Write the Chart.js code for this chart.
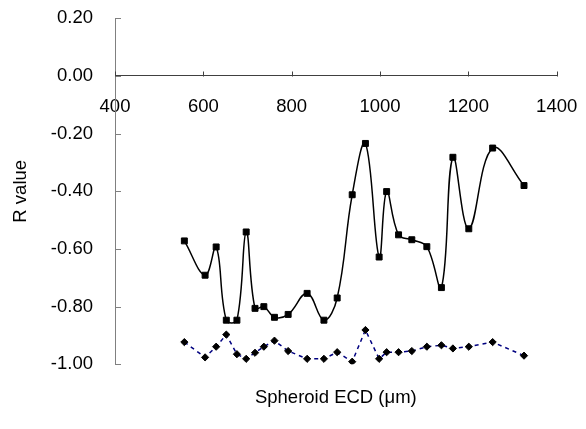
<!DOCTYPE html>
<html>
<head>
<meta charset="utf-8">
<script src="https://cdn.jsdelivr.net/npm/chart.js@4/dist/chart.umd.min.js"></script>
<style>
  html, body { margin: 0; padding: 0; background: #ffffff; }
  #wrap { width: 586px; height: 429px; position: relative; }
</style>
</head>
<body>
<div id="wrap"><canvas id="c" width="586" height="429"></canvas></div>
<script>
// Spheroid ECD (µm) for each measured point
const ecd = [557, 604, 629, 652, 676, 697, 717, 737, 761, 792, 835, 873, 903, 937, 967, 998, 1015, 1042, 1072, 1106, 1139, 1165, 1201, 1255, 1326];
// Series with square markers (solid smoothed line)
const rSquares = [-0.572, -0.691, -0.593, -0.847, -0.847, -0.541, -0.806, -0.800, -0.837, -0.827, -0.754, -0.847, -0.770, -0.412, -0.234, -0.628, -0.401, -0.551, -0.568, -0.592, -0.734, -0.282, -0.530, -0.250, -0.380];
// Series with diamond markers (dotted navy line)
const rDiamonds = [-0.923, -0.976, -0.939, -0.897, -0.965, -0.981, -0.960, -0.939, -0.918, -0.954, -0.981, -0.981, -0.958, -0.991, -0.881, -0.981, -0.958, -0.958, -0.954, -0.939, -0.934, -0.945, -0.939, -0.923, -0.970];
const xTitle = 'Spheroid ECD (\u03bcm)';
const yTitle = 'R value';

const FONT = '"Liberation Sans", Arial, sans-serif';
const FS = 18.5;

const ptsA = ecd.map((x, i) => ({ x: x, y: rSquares[i] }));
const ptsB = ecd.map((x, i) => ({ x: x, y: rDiamonds[i] }));

const extras = {
  id: 'extras',
  afterDraw(chart) {
    const ctx = chart.ctx;
    const xs = chart.scales.x, ys = chart.scales.y;
    const ca = chart.chartArea;
    ctx.save();
    // inside tick marks on y axis
    ctx.strokeStyle = '#808080';
    ctx.lineWidth = 1;
    ys.ticks.forEach(t => {
      const py = Math.round(ys.getPixelForValue(t.value)) + 0.5;
      ctx.beginPath();
      ctx.moveTo(ca.left, py);
      ctx.lineTo(ca.left + 6, py);
      ctx.stroke();
    });
    // inside tick marks on x axis (pointing up from y = 0)
    ctx.strokeStyle = '#404040';
    const y0 = Math.round(ys.getPixelForValue(0)) + 0.5;
    xs.ticks.forEach(t => {
      const px = Math.round(xs.getPixelForValue(t.value)) + 0.5;
      ctx.beginPath();
      ctx.moveTo(px, y0);
      ctx.lineTo(px, y0 - 5);
      ctx.stroke();
    });
    // axis titles
    ctx.fillStyle = '#000000';
    ctx.font = FS + 'px ' + FONT;
    ctx.textAlign = 'center';
    ctx.textBaseline = 'middle';
    ctx.fillText(xTitle, (ca.left + ca.right) / 2, 398);
    ctx.translate(21, (ca.top + ca.bottom) / 2);
    ctx.rotate(-Math.PI / 2);
    ctx.fillText(yTitle, 0, 0);
    ctx.restore();
  }
};

new Chart(document.getElementById('c'), {
  type: 'scatter',
  data: {
    datasets: [
      {
        data: ptsA,
        showLine: true,
        borderColor: '#000000',
        borderWidth: 1.5,
        tension: 0.4,
        pointStyle: 'rect',
        pointRadius: 4.2,
        pointBackgroundColor: '#000000',
        pointBorderColor: '#000000',
        pointBorderWidth: 1
      },
      {
        data: ptsB,
        showLine: true,
        borderColor: '#000080',
        borderWidth: 1.5,
        borderDash: [4, 4],
        tension: 0,
        pointStyle: 'rectRot',
        pointRadius: 3.6,
        pointBackgroundColor: '#000000',
        pointBorderColor: '#000000',
        pointBorderWidth: 1
      }
    ]
  },
  options: {
    responsive: false,
    animation: false,
    layout: { padding: { left: 0, right: 29.3, top: 18.3, bottom: 64.7 } },
    plugins: { legend: { display: false }, tooltip: { enabled: false } },
    scales: {
      x: {
        type: 'linear',
        position: { y: 0 },
        min: 400, max: 1400,
        afterFit(s) { s.height = 0; s.paddingTop = 0; s.paddingBottom = 0; s.paddingRight = 0; },
        grid: { display: false },
        border: { display: true, color: '#404040', width: 1 },
        ticks: {
          stepSize: 200,
          color: '#000000',
          padding: 12,
          maxRotation: 0,
          font: { family: FONT, size: FS },
          callback: v => String(v)
        }
      },
      y: {
        type: 'linear',
        position: 'left',
        min: -1, max: 0.2,
        afterFit(s) { s.width = 115; s.paddingTop = 0; s.paddingBottom = 0; },
        grid: { display: false },
        border: { display: true, color: '#808080', width: 1 },
        ticks: {
          stepSize: 0.2,
          color: '#000000',
          padding: 14,
          font: { family: FONT, size: FS },
          callback: v => (Math.abs(v) < 1e-9 ? 0 : v).toFixed(2)
        }
      }
    }
  },
  plugins: [extras]
});
</script>
</body>
</html>
